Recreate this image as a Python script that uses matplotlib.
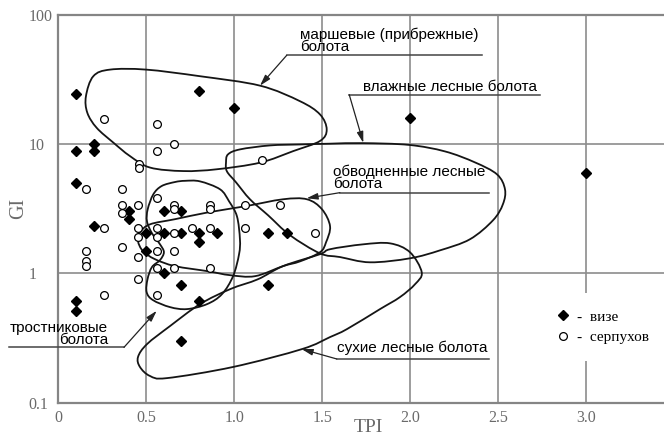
import numpy as np
import matplotlib
matplotlib.use('Agg')
import matplotlib.pyplot as plt
from matplotlib.lines import Line2D
from matplotlib.path import Path
from matplotlib.patches import PathPatch
from matplotlib.ticker import NullLocator, FixedLocator

# ---------------- data ----------------
vise_tpi = [0.1, 0.8, 1.0, 2.0, 0.1, 0.2, 0.2, 0.1, 3.0,
            0.4, 0.4, 0.6, 0.7, 0.2, 0.5, 0.6, 0.7, 0.8, 0.9, 0.8,
            1.19, 1.3, 0.5, 0.6, 0.7, 0.8, 1.19, 0.1, 0.1, 0.7]
vise_gi = [24.4, 25.8, 19.1, 16.1, 8.9, 10.1, 8.9, 5.0, 5.95,
           3.04, 2.63, 3.04, 3.04, 2.33, 2.04, 2.04, 2.04, 2.04, 2.04, 1.74,
           2.04, 2.04, 1.50, 1.0, 0.81, 0.61, 0.81, 0.61, 0.51, 0.30]

serp_tpi = [0.26, 0.56, 0.56, 0.66, 0.46, 0.46, 1.16, 0.16, 0.36,
            0.36, 0.36, 0.455, 0.56, 0.66, 0.66, 0.86, 0.86, 1.06, 1.26,
            0.26, 0.455, 0.56, 0.76, 0.86, 1.06, 1.46,
            0.455, 0.56, 0.66, 0.36, 0.56, 0.66, 0.455,
            0.16, 0.16, 0.16, 0.56, 0.66, 0.86, 0.455, 0.26, 0.56]
serp_gi = [15.6, 14.3, 8.8, 10.0, 7.0, 6.6, 7.6, 4.48, 4.48,
           3.39, 2.96, 3.39, 3.86, 3.39, 3.18, 3.39, 3.18, 3.39, 3.39,
           2.23, 2.23, 2.23, 2.23, 2.23, 2.23, 2.04,
           1.90, 1.90, 2.04, 1.59, 1.48, 1.48, 1.35,
           1.48, 1.25, 1.14, 1.11, 1.11, 1.11, 0.90, 0.68, 0.68]

x_ticks = [0, 0.5, 1.0, 1.5, 2.0, 2.5, 3.0]
x_tick_labels = ['0', '0.5', '1.0', '1.5', '2.0', '2.5', '3.0']
y_ticks = [0.1, 1, 10, 100]
y_tick_labels = ['0.1', '1', '10', '100']

# outlines of the swamp-type fields (TPI, GI)
marsh_tpi = [0.157, 0.199, 0.294, 0.498, 0.805, 1.146, 1.374, 1.487, 1.525, 1.487,
             1.335, 1.146, 0.900, 0.710, 0.521, 0.407, 0.3125, 0.218, 0.165]
marsh_gi = [23.5, 33.6, 37.8, 37.8, 33.6, 28.4, 21.5, 17.0, 13.0, 10.6,
            8.85, 7.2, 6.4, 6.2, 6.6, 8.1, 10.3, 13.4, 17.5]

wet_tpi = [0.953, 0.964, 1.032, 1.203, 1.373, 1.544, 1.731, 1.993, 2.197, 2.368,
           2.493, 2.538, 2.526, 2.470, 2.339, 2.169, 1.998, 1.771, 1.600, 1.487,
           1.316, 1.192, 1.089, 1.010, 0.958]
wet_gi = [7.23, 8.34, 9.12, 9.79, 9.96, 10.1, 10.2, 9.88, 8.80, 7.23,
          5.84, 4.48, 3.43, 2.58, 1.84, 1.51, 1.31, 1.22, 1.34, 1.43,
          1.98, 2.82, 3.75, 5.07, 6.17]

flooded_tpi = [0.521, 0.663, 0.851, 1.061, 1.277, 1.413, 1.498, 1.544, 1.521, 1.487,
               1.373, 1.277, 1.118, 0.976, 0.851, 0.663, 0.549, 0.481, 0.453, 0.464]
flooded_gi = [2.40, 2.63, 2.97, 3.31, 3.75, 3.75, 3.14, 2.32, 1.74, 1.46,
              1.24, 1.14, 0.953, 0.970, 1.04, 1.14, 1.29, 1.49, 1.78, 2.08]

reed_tpi = [0.663, 0.5875, 0.540, 0.508, 0.504, 0.532, 0.578, 0.600, 0.578, 0.532,
            0.507, 0.502, 0.538, 0.635, 0.731, 0.845, 0.930, 0.993, 1.027, 1.032,
            1.015, 0.970, 0.919, 0.805, 0.720]
reed_gi = [5.10, 4.75, 4.10, 3.14, 2.53, 2.05, 1.68, 1.46, 1.27, 1.12,
           0.903, 0.717, 0.622, 0.549, 0.530, 0.579, 0.692, 0.953, 1.41, 1.84,
           2.77, 3.62, 4.48, 5.16, 5.21]

dry_tpi = [1.135, 1.277, 1.487, 1.544, 1.731, 1.885, 1.998, 2.065, 2.027, 1.941,
           1.828, 1.640, 1.544, 1.385, 0.993, 0.618, 0.521, 0.464, 0.453, 0.504,
           0.635, 0.805, 0.976]
dry_gi = [0.903, 1.14, 1.41, 1.54, 1.68, 1.71, 1.46, 1.02, 0.826, 0.656,
          0.530, 0.371, 0.322, 0.260, 0.189, 0.155, 0.161, 0.189, 0.226, 0.284,
          0.392, 0.579, 0.756]

legend_labels = ['-  визе', '-  серпухов']

# ---------------- figure ----------------
SERIF = ['Liberation Serif', 'DejaVu Serif']
SANS = ['Liberation Sans', 'DejaVu Sans']
GRAY = '#6a6a6a'

fig = plt.figure(figsize=(6.64, 4.37), dpi=100)
ax = fig.add_axes([58.3 / 664, 1 - 402.7 / 437, 1 - 58.3 / 664, (402.7 - 15) / 437])
ax.set_yscale('log')
ax.set_xlim(0, (664 - 58.3) / 176)
ax.set_ylim(0.1, 100)

ax.xaxis.set_major_locator(FixedLocator(x_ticks))
ax.set_xticklabels(x_tick_labels)
ax.yaxis.set_major_locator(FixedLocator(y_ticks))
ax.yaxis.set_minor_locator(NullLocator())
ax.set_yticklabels(y_tick_labels)
for lab in ax.get_xticklabels() + ax.get_yticklabels():
    lab.set_fontfamily(SERIF)
    lab.set_fontsize(11.5)
    lab.set_color(GRAY)
for lab in ax.get_yticklabels():
    lab.set_horizontalalignment('left')
ax.tick_params(axis='both', length=0)
ax.tick_params(axis='y', pad=21.5)
ax.tick_params(axis='x', pad=5)

ax.grid(True, color='#8c8c8c', lw=1.2)
ax.set_axisbelow(True)
for side in ['left', 'bottom', 'top']:
    ax.spines[side].set_color('#858585')
    ax.spines[side].set_linewidth(1.6)
ax.spines['right'].set_visible(False)

ax.text((18.5 - 58.3) / 605.7, 0.502, 'GI', transform=ax.transAxes, rotation=90,
        ha='center', va='center', fontsize=14.5, family=SERIF, color=GRAY)
ax.text((368 - 58.3) / 605.7, (402.7 - 427) / 387.7, 'TPI', transform=ax.transAxes,
        ha='center', va='center', fontsize=14, family=SERIF, color=GRAY)


def outline_patch(xs, ys, **kw):
    P = np.column_stack([xs, np.log10(ys)])
    N = len(P)
    verts = [P[0]]
    codes = [Path.MOVETO]
    for i in range(N):
        p0, p1, p2, p3 = P[i - 1], P[i], P[(i + 1) % N], P[(i + 2) % N]
        verts += [p1 + (p2 - p0) / 6, p2 - (p3 - p1) / 6, p2]
        codes += [Path.CURVE4] * 3
    verts = np.array(verts)
    verts[:, 1] = 10 ** verts[:, 1]
    return PathPatch(Path(verts, codes), fill=False, **kw)


for xs, ys in [(marsh_tpi, marsh_gi), (wet_tpi, wet_gi), (flooded_tpi, flooded_gi),
               (reed_tpi, reed_gi), (dry_tpi, dry_gi)]:
    ax.add_patch(outline_patch(xs, ys, edgecolor='#151515', lw=1.3, zorder=3))

ax.plot(vise_tpi, vise_gi, ls='none', marker='D', ms=4.8, color='black', zorder=4)
ax.plot(serp_tpi, serp_gi, ls='none', marker='o', ms=5.6, mfc='white', mec='black',
        mew=0.9, zorder=4)

# ---------------- labels with leaders ----------------
arrow_kw = dict(arrowstyle='-|>,head_length=0.55,head_width=0.16', lw=0.9,
                color='#222222', shrinkA=0, shrinkB=0, mutation_scale=12)
line_kw = dict(color='#444444', lw=1.1, clip_on=False, zorder=5)
txt_kw = dict(fontsize=11, family=SANS, linespacing=0.82, va='center', zorder=5)

# (text x, text y, ha, underline x0, x1, y, arrow tip x, y, text)
labels = [
    (1.373, 63.4, 'left', 1.298, 2.406, 48.8, 1.146, 28.4, 'маршевые (прибрежные)\nболота'),
    (1.731, 27.8, 'left', 1.653, 2.737, 24.2, 1.733, 10.25, 'влажные лесные болота'),
    (1.5625, 5.46, 'left', 1.600, 2.447, 4.22, 1.411, 3.82, 'обводненные лесные\nболота'),
    (0.284, 0.342, 'right', -0.278, 0.373, 0.268, 0.559, 0.514, 'тростниковые\nболота'),
    (1.585, 0.264, 'left', 1.582, 2.449, 0.218, 1.383, 0.260, 'сухие лесные болота'),
]
for tx, ty, ha, ux0, ux1, uy, ax_, ay_, s in labels:
    ax.text(tx, ty, s, ha=ha, multialignment=ha, clip_on=False, **txt_kw)
    ax.plot([ux0, ux1], [uy, uy], **line_kw)
    lead_x = ux0 if ha == 'left' else ux1
    ax.annotate('', xy=(ax_, ay_), xytext=(lead_x, uy), arrowprops=arrow_kw,
                annotation_clip=False, zorder=5)

# ---------------- legend ----------------
handles = [Line2D([], [], ls='none', marker='D', ms=4.8, color='black'),
           Line2D([], [], ls='none', marker='o', ms=5.6, mfc='white', mec='black', mew=0.9)]
leg = ax.legend(handles, legend_labels, loc='center left',
                bbox_to_anchor=((539 - 58.3) / 605.7, (402.7 - 327) / 387.7),
                borderaxespad=0, frameon=True, facecolor='white', edgecolor='none',
                framealpha=1, fancybox=False, handlelength=1.0, handletextpad=0.4,
                labelspacing=0.45, borderpad=1.1,
                prop={'family': SERIF, 'size': 11})
leg.set_zorder(6)

fig.savefig('out.png', dpi=100)
